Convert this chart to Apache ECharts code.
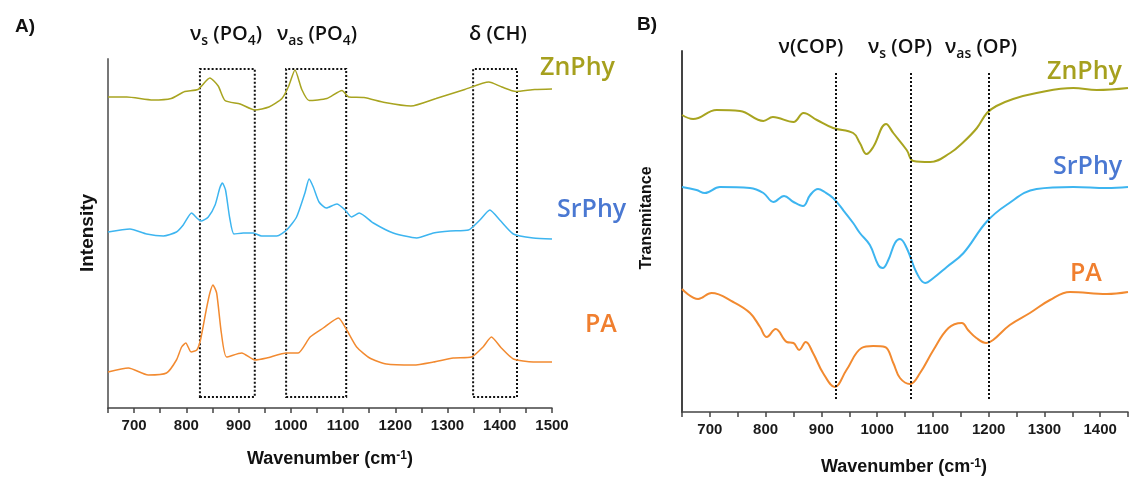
<!DOCTYPE html>
<html>
<head>
<meta charset="utf-8">
<script src="https://cdn.jsdelivr.net/npm/echarts@6/dist/echarts.min.js"></script>
<style>
  html, body { margin: 0; padding: 0; background: #fff; }
  #chart { width: 1132px; height: 477px; }
</style>
</head>
<body>
<div id="chart"></div>
<script>
// A) Raman spectra, [wavenumber, intensity (offset, a.u.)]
const ramanZnPhy = [[650,311],[686,311],[736,308],[771,309.5],[797,316.5],[822,318.5],[845,330],[861,322],[874,307.5],[903,304],[931,298],[958,301],[983,309.5],[996,322],[1008,338],[1021,318.5],[1035,307.5],[1069,309.5],[1098,317.5],[1111,311],[1140,310.5],[1180,305.5],[1230,302],[1278,309.5],[1333,318.5],[1379,326],[1404,321],[1431,316.5],[1467,318.5],[1500,319]]
const ramanSrPhy = [[650,176],[692,179],[724,174],[756,172],[781,176],[794,183],[810,195],[820,190],[829,187],[842,191],[855,203],[864,220],[869,225],[875,218],[883,190],[891,174],[909,175],[928,175],[944,172],[973,172],[992,178],[1011,191],[1027,215],[1035,229],[1043,221],[1054,206],[1068,200],[1088,204],[1104,198],[1116,191],[1131,195],[1158,185],[1196,175],[1241,170],[1273,175],[1305,177],[1340,178],[1362,188],[1381,198],[1400,188],[1426,174],[1464,170],[1500,169]]
const ramanPA = [[650,36],[689,40],[727,33],[762,35],[781,48],[791,61],[799,65],[809,56],[820,58],[827,68],[838,98],[845,115],[851,123],[858,115],[867,75],[877,51],[906,55],[931,48],[954,50],[992,55],[1014,55],[1037,71],[1062,80],[1091,90],[1107,78],[1126,61],[1151,50],[1183,44],[1235,43],[1273,46],[1311,50],[1346,51],[1368,61],[1384,71],[1403,60],[1426,49],[1464,46],[1500,46]]

// B) FTIR spectra, [wavenumber, transmittance (offset, a.u.)]
const ftirZnPhy = [[650,297],[670,293],[712,302],[754,301],[796,291],[813,295],[850,290],[868,299],[892,292],[921,284],[957,279],[969,269],[981,258],[993,265],[1016,288],[1029,279],[1053,262],[1065,251],[1095,250],[1131,259],[1155,270],[1179,284],[1197,299],[1214,306],[1244,313],[1286,319],[1352,324],[1394,322],[1450,324]]
const ftirSrPhy = [[650,225],[676,222],[691,219],[718,225],[772,224],[796,219],[814,210],[833,216],[850,210],[867,206],[880,217],[894,223],[906,220],[921,214],[939,202],[957,189],[969,179],[987,167],[1002,147],[1010,144],[1020,152],[1032,169],[1041,173],[1053,164],[1071,139],[1086,129],[1101,134],[1125,145],[1155,159],[1196,190],[1232,207],[1286,223],[1352,225],[1412,224],[1450,225]]
const ftirPA = [[650,123],[679,113],[703,119],[742,110],[772,99],[790,85],[802,75],[818,83],[838,70],[850,69],[860,62],[872,70],[885,59],[903,39],[924,25],[945,42],[972,64],[993,66],[1014,65],[1029,49],[1041,34],[1059,28],[1077,39],[1101,62],[1128,84],[1152,89],[1163,82],[1178,74],[1196,69],[1208,72],[1238,87],[1274,99],[1310,112],[1346,120],[1412,118],[1450,120]]

// band regions / markers
const ramanBoxes = [[826, 931], [991, 1106], [1349, 1433]]
const ftirMarkers = [925, 1060, 1200]

const colZn = '#a8a420'
const colSr = '#3db5f0'
const colPA = '#f28a30'

const fontTxt = '"Open Sans", "Noto Sans", sans-serif'
const fontAx = '"Liberation Sans", Arial, sans-serif'

function xAxisFor(idx, min, max) {
    return {
        gridIndex: idx, type: 'value', min: min, max: max, interval: 50,
        axisLine: { lineStyle: { color: '#444', width: 1.5 } },
        axisTick: { length: 5, lineStyle: { color: '#444', width: 1.5 } },
        axisLabel: {
            margin: 10, color: '#1a1a1a', fontWeight: 'bold', fontSize: 15, fontFamily: fontAx,
            formatter: v => (v % 100 === 0 ? String(v) : '')
        },
        splitLine: { show: false }
    }
}
function yAxisFor(idx, max, color) {
    return {
        gridIndex: idx, type: 'value', min: 0, max: max,
        axisLine: { show: true, lineStyle: { color: color, width: 2 } },
        axisTick: { show: false }, axisLabel: { show: false }, splitLine: { show: false }
    }
}
function line(name, data, idx, color, width, smooth) {
    return {
        name: name, type: 'line', xAxisIndex: idx, yAxisIndex: idx, data: data,
        showSymbol: false, smooth: smooth, silent: true,
        lineStyle: { color: color, width: width }
    }
}

const dotted = { color: '#111', width: 2, type: [2, 2] }

const series = [
    line('ZnPhy', ramanZnPhy, 0, colZn, 1.5, 0.2),
    line('SrPhy', ramanSrPhy, 0, colSr, 1.5, 0.2),
    line('PA', ramanPA, 0, colPA, 1.5, 0.2),
    line('ZnPhy', ftirZnPhy, 1, colZn, 2, 0.4),
    line('SrPhy', ftirSrPhy, 1, colSr, 2, 0.4),
    line('PA', ftirPA, 1, colPA, 2, 0.4)
]
series[0].markArea = {
    silent: true,
    itemStyle: { color: 'rgba(0,0,0,0)', borderColor: '#111', borderWidth: 2, borderType: [2, 2] },
    data: ramanBoxes.map(b => [{ xAxis: b[0], yAxis: 11 }, { xAxis: b[1], yAxis: 339 }])
}
series[3].markLine = {
    silent: true, symbol: ['none', 'none'], label: { show: false },
    lineStyle: dotted,
    data: ftirMarkers.map(m => [{ coord: [m, 339] }, { coord: [m, 11] }])
}

// subscripts are pushed down with top padding
const sub = { fontSize: 14, lineHeight: 14, padding: [15, 0, 0, 0], fontFamily: fontTxt, fontWeight: 600, fill: '#111' }
const base = { fontSize: 20, lineHeight: 28, fontFamily: fontTxt, fontWeight: 600, fill: '#111' }
function note(x, y, text) {
    return {
        type: 'text', x: x, y: y,
        style: { text: text, align: 'center', verticalAlign: 'middle', rich: { b: base, s: sub } }
    }
}
function tag(x, y, text, color) {
    return {
        type: 'text', x: x, y: y,
        style: { text: text, fill: color, font: '600 25px ' + fontTxt, align: 'left', verticalAlign: 'middle' }
    }
}
const supT = { fontSize: 12, lineHeight: 12, verticalAlign: 'top', fontFamily: fontAx, fontWeight: 'bold', fill: '#111' }
const mainT = { fontSize: 18, lineHeight: 24, verticalAlign: 'top', fontFamily: fontAx, fontWeight: 'bold', fill: '#111' }
function xTitle(x, y) {
    return {
        type: 'text', x: x, y: y,
        style: { text: '{m|Wavenumber (cm}{p|-1}{m|)}', align: 'center', verticalAlign: 'middle', rich: { m: mainT, p: supT } }
    }
}
function yTitle(x, y, text, size) {
    return {
        type: 'text', x: x, y: y, rotation: Math.PI / 2,
        style: { text: text, fill: '#111', font: 'bold ' + size + 'px ' + fontAx, align: 'center', verticalAlign: 'middle' }
    }
}

const option = {
    animation: false,
    backgroundColor: '#fff',
    grid: [
        { left: 108, top: 59, width: 444, height: 349 },
        { left: 682, top: 51, width: 446, height: 361 }
    ],
    xAxis: [xAxisFor(0, 650, 1500), xAxisFor(1, 650, 1450)],
    yAxis: [yAxisFor(0, 349, '#777'), yAxisFor(1, 361, '#444')],
    series: series,
    graphic: [
        { type: 'text', x: 25, y: 27, style: { text: 'A)', font: 'bold 19px ' + fontAx, fill: '#111', align: 'center', verticalAlign: 'middle' } },
        { type: 'text', x: 647, y: 25, style: { text: 'B)', font: 'bold 19px ' + fontAx, fill: '#111', align: 'center', verticalAlign: 'middle' } },
        note(226, 34, '{b|ν}{s|s}{b| (PO}{s|4}{b|)}'),
        note(317, 34, '{b|ν}{s|as}{b| (PO}{s|4}{b|)}'),
        note(498, 34, '{b|δ (CH)}'),
        note(811, 47, '{b|ν(COP)}'),
        note(900, 47, '{b|ν}{s|s}{b| (OP)}'),
        note(981, 47, '{b|ν}{s|as}{b| (OP)}'),
        tag(540, 68, 'ZnPhy', '#a6a01e'),
        tag(557, 210, 'SrPhy', '#4a78d2'),
        tag(585, 325, 'PA', '#f07f2f'),
        tag(1047, 72, 'ZnPhy', '#a6a01e'),
        tag(1053, 167, 'SrPhy', '#4a78d2'),
        tag(1070, 274, 'PA', '#f07f2f'),
        xTitle(330, 462),
        xTitle(904, 470),
        yTitle(88, 233, 'Intensity', 19),
        yTitle(647, 218, 'Transmitance', 16)
    ]
}

const chart = echarts.init(document.getElementById('chart'))
chart.setOption(option)
</script>
</body>
</html>
